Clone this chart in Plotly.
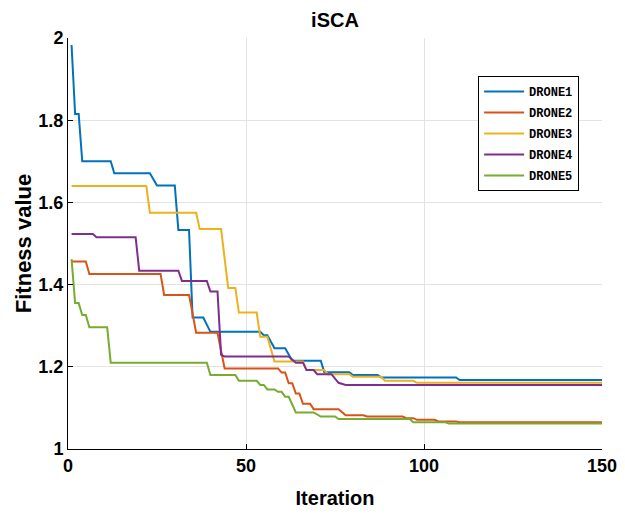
import plotly.graph_objects as go

# Iteration / fitness vertices (value changes)
drone1_x = [1, 2, 3, 4, 12, 13, 23, 25, 30, 31, 34, 35, 38, 40, 54, 55, 56, 58, 61, 63, 71, 72, 79, 80, 87, 88, 109, 110, 150]
drone1_y = [1.983, 1.815, 1.815, 1.700, 1.700, 1.671, 1.671, 1.641, 1.641, 1.533, 1.533, 1.320, 1.320, 1.285, 1.285, 1.277, 1.277, 1.245, 1.245, 1.215, 1.215, 1.187, 1.187, 1.180, 1.180, 1.174, 1.174, 1.168, 1.168]

drone2_x = [1, 5, 6, 26, 27, 34, 36, 42, 44, 59, 60, 61, 62, 63, 64, 65, 66, 68, 69, 76, 78, 83, 84, 94, 95, 97, 98, 103, 104, 109, 110, 150]
drone2_y = [1.456, 1.456, 1.426, 1.426, 1.375, 1.375, 1.283, 1.283, 1.196, 1.196, 1.186, 1.186, 1.160, 1.160, 1.135, 1.135, 1.110, 1.110, 1.097, 1.097, 1.082, 1.082, 1.079, 1.079, 1.075, 1.075, 1.071, 1.071, 1.067, 1.067, 1.065, 1.065]

drone3_x = [1, 22, 23, 36, 37, 43, 45, 47, 48, 53, 54, 56, 58, 66, 67, 72, 73, 79, 80, 88, 89, 97, 98, 150]
drone3_y = [1.640, 1.640, 1.575, 1.575, 1.535, 1.535, 1.392, 1.392, 1.332, 1.332, 1.273, 1.273, 1.213, 1.213, 1.192, 1.192, 1.182, 1.182, 1.176, 1.176, 1.166, 1.166, 1.161, 1.161]

drone4_x = [1, 7, 8, 19, 20, 31, 32, 39, 40, 42, 43, 44, 62, 64, 66, 67, 69, 70, 74, 76, 78, 150]
drone4_y = [1.523, 1.523, 1.515, 1.515, 1.434, 1.434, 1.409, 1.409, 1.383, 1.383, 1.229, 1.225, 1.225, 1.210, 1.210, 1.192, 1.192, 1.182, 1.182, 1.161, 1.156, 1.156]

drone5_x = [1, 2, 3, 4, 5, 6, 11, 12, 39, 40, 47, 48, 53, 54, 55, 56, 58, 59, 60, 61, 62, 64, 69, 71, 75, 76, 96, 97, 106, 107, 150]
drone5_y = [1.462, 1.355, 1.355, 1.326, 1.326, 1.296, 1.296, 1.210, 1.210, 1.180, 1.180, 1.166, 1.166, 1.156, 1.156, 1.145, 1.145, 1.139, 1.139, 1.127, 1.127, 1.089, 1.089, 1.079, 1.079, 1.073, 1.073, 1.065, 1.065, 1.062, 1.062]

names = ["DRONE1", "DRONE2", "DRONE3", "DRONE4", "DRONE5"]
colors = ["#0072BD", "#D95319", "#EDB120", "#7E2F8E", "#77AC30"]
xs = [drone1_x, drone2_x, drone3_x, drone4_x, drone5_x]
ys = [drone1_y, drone2_y, drone3_y, drone4_y, drone5_y]

x_ticks = [0, 50, 100, 150]
y_ticks = [1, 1.2, 1.4, 1.6, 1.8, 2]

FONT = "Liberation Sans, Arial, sans-serif"

fig = go.Figure()
for n, c, x, y in zip(names, colors, xs, ys):
    fig.add_trace(go.Scatter(x=x, y=y, mode="lines", name=n, legendgroup=n,
                             line=dict(color=c, width=2)))

fig.update_layout(
    width=625, height=514,
    margin=dict(l=68, r=23, t=38, b=65),
    paper_bgcolor="white", plot_bgcolor="white",
    title=dict(text="iSCA", x=0.536, xanchor="center", y=0.962, yanchor="middle",
               font=dict(family=FONT, size=20, color="black", weight="bold")),
    showlegend=True,
    legend=dict(x=0.768, y=0.9075, xanchor="left", yanchor="top",
                bgcolor="white", bordercolor="black", borderwidth=1,
                traceorder="grouped", tracegroupgap=2, itemwidth=40,
                font=dict(family="Liberation Mono, Courier New, monospace", size=12,
                          color="black", weight="bold")),
    xaxis=dict(range=[0, 150], tickvals=x_ticks, ticks="inside", ticklen=5, tickcolor="black",
               showline=True, linecolor="black", linewidth=1, mirror=False, automargin=False,
               showgrid=True, gridcolor="#e3e3e3", gridwidth=1, zeroline=False,
               tickfont=dict(family=FONT, size=18, color="black", weight="bold"),
               title=dict(text="Iteration", standoff=16,
                          font=dict(family=FONT, size=20, color="black", weight="bold"))),
    yaxis=dict(range=[1, 2], tickvals=y_ticks, ticks="inside", ticklen=5, tickcolor="black",
               showline=True, linecolor="black", linewidth=1, mirror=False, automargin=False,
               showgrid=True, gridcolor="#e3e3e3", gridwidth=1, zeroline=False,
               tickfont=dict(family=FONT, size=18, color="black", weight="bold"),
               title=dict(text="Fitness value", standoff=0,
                          font=dict(family=FONT, size=22, color="black", weight="bold"))),
)

fig.write_html("out.html")
